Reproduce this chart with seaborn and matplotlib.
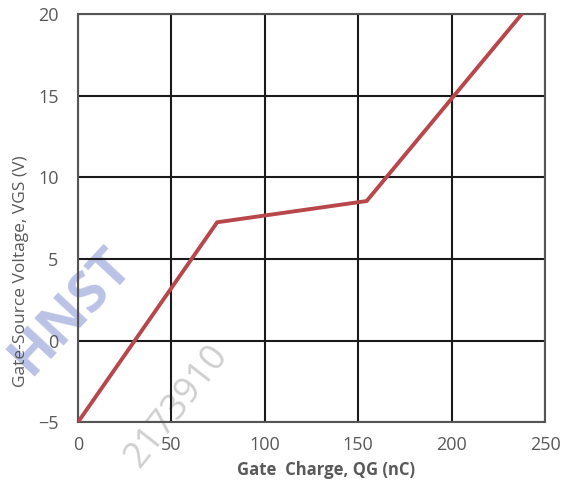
import matplotlib
matplotlib.use("Agg")
import matplotlib.pyplot as plt
import numpy as np
import pandas as pd
import seaborn as sns

# gate charge curve
gate_charge = [0, 74.5, 154.5, 237.5]      # nC
gate_voltage = [-5, 7.25, 8.55, 20]        # V
x_ticks = [0, 50, 100, 150, 200, 250]
y_ticks = [-5, 0, 5, 10, 15, 20]

df = pd.DataFrame({'Qg': gate_charge, 'Vgs': gate_voltage})

sns.set_style('white')
plt.rcParams['font.family'] = ['Open Sans', 'DejaVu Sans']

fig = plt.figure(figsize=(5.69, 4.87), dpi=100)
ax = fig.add_axes([0.137, 0.133, 0.821, 0.838])

# watermark behind everything
fig.text(0.125, 0.36, 'HNST', fontsize=40, fontweight='bold', color='#a9b3e0',
         alpha=0.8, rotation=47, ha='center', va='center', zorder=-1)
fig.text(0.31, 0.165, '2173910', fontsize=26, color='#cfcfcf',
         rotation=52, ha='center', va='center', zorder=-1)

sns.lineplot(data=df, x='Qg', y='Vgs', ax=ax, color='#b8474b', linewidth=2.8,
             zorder=5)

ax.set_xlim(0, 250)
ax.set_ylim(-5, 20)
ax.set_xticks(x_ticks)
ax.set_yticks(y_ticks)
ax.grid(True, color='#1a1a1a', linewidth=1.5)
ax.set_axisbelow(True)
ax.patch.set_alpha(0)
for s in ax.spines.values():
    s.set_color('#555555')
    s.set_linewidth(1.5)

ax.tick_params(axis='both', length=0, labelsize=13, colors='#595959')
ax.tick_params(axis='x', pad=10)
ax.tick_params(axis='y', pad=14)
ax.set_xlabel('Gate  Charge, QG (nC)', fontsize=12, fontweight='bold',
              color='#595959', labelpad=-1)
ax.set_ylabel('Gate-Source Voltage, VGS (V)', fontsize=12.5, color='#595959')
ax.yaxis.set_label_coords(-0.105, 0.37)
ax.xaxis.set_label_coords(0.53, -0.095)

fig.savefig('out.png', dpi=100)
